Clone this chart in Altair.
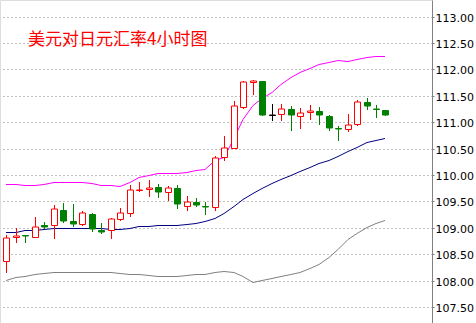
import altair as alt
import pandas as pd

title_text = "美元对日元汇率4小时图"

opens = [108.37, 108.83, 108.86, 108.83, 109.05, 109.05, 109.34, 109.13, 109.07, 109.27,
         108.96, 108.95, 109.16, 109.29, 109.71, 109.74, 109.77, 109.67, 109.75, 109.41,
         109.49, 109.41, 109.40, 110.34, 110.52, 111.29, 111.77, 111.78, 111.14, 111.15,
         111.25, 111.11, 111.20, 111.21, 111.12, 110.89, 110.87, 110.97, 111.38, 111.26,
         111.23]
highs = [108.86, 109.00, 108.86, 109.21, 109.11, 109.43, 109.47, 109.45, 109.32, 109.28,
         109.10, 109.18, 109.38, 109.81, 109.87, 109.91, 109.83, 109.80, 109.81, 109.60,
         109.56, 109.49, 110.36, 110.74, 111.40, 111.78, 111.80, 111.79, 111.35, 111.35,
         111.31, 111.27, 111.33, 111.28, 111.14, 110.92, 111.16, 111.43, 111.45, 111.33,
         111.23]
lows = [108.14, 108.71, 108.71, 108.81, 108.98, 108.79, 109.09, 109.01, 109.03, 108.93,
        108.88, 108.78, 109.12, 109.20, 109.68, 109.58, 109.57, 109.51, 109.36, 109.31,
        109.40, 109.25, 109.32, 110.27, 110.49, 111.25, 111.52, 111.12, 111.03, 111.03,
        110.84, 110.88, 111.04, 110.95, 110.84, 110.65, 110.81, 110.92, 111.24, 111.09,
        111.12]
closes = [108.80, 108.84, 108.85, 109.02, 109.02, 109.35, 109.12, 109.08, 109.28, 108.98,
          108.92, 109.16, 109.28, 109.71, 109.72, 109.75, 109.67, 109.75, 109.45, 109.49,
          109.43, 109.40, 110.32, 110.51, 111.31, 111.76, 111.78, 111.14, 111.14, 111.26,
          111.13, 111.18, 111.21, 111.14, 110.90, 110.88, 110.95, 111.38, 111.30, 111.25,
          111.13]

upper_band = [109.83, 109.83, 109.82, 109.82, 109.83, 109.86, 109.86, 109.86, 109.86, 109.84,
              109.82, 109.82, 109.79, 109.86, 109.97, 110.01, 110.04, 110.03, 110.03, 110.06,
              110.09, 110.11, 110.28, 110.35, 110.70, 111.06, 111.33, 111.46, 111.57, 111.72,
              111.86, 111.95, 112.03, 112.11, 112.15, 112.17, 112.16, 112.20, 112.23, 112.25,
              112.26]
middle_band = [108.92, 108.93, 108.95, 108.96, 108.97, 108.99, 108.99, 108.99, 108.99, 108.99,
               108.99, 108.98, 108.98, 109.00, 109.03, 109.04, 109.05, 109.05, 109.06, 109.08,
               109.10, 109.12, 109.19, 109.28, 109.41, 109.55, 109.66, 109.75, 109.84, 109.93,
               110.01, 110.08, 110.15, 110.23, 110.29, 110.37, 110.46, 110.54, 110.62, 110.66,
               110.70]
lower_band = [108.01, 108.06, 108.09, 108.12, 108.14, 108.16, 108.16, 108.16, 108.16, 108.16,
              108.16, 108.16, 108.15, 108.13, 108.12, 108.10, 108.09, 108.09, 108.09, 108.10,
              108.12, 108.12, 108.16, 108.19, 108.17, 108.08, 107.97, 108.01, 108.05, 108.09,
              108.13, 108.16, 108.24, 108.32, 108.44, 108.60, 108.78, 108.90, 109.01, 109.09,
              109.14]

y_ticks = [107.5, 108.0, 108.5, 109.0, 109.5, 110.0, 110.5, 111.0, 111.5, 112.0, 112.5, 113.0]

n = len(opens)
idx = list(range(n))
dirs = ["up" if c > o else ("down" if c < o else "flat") for o, c in zip(opens, closes)]
candles = pd.DataFrame({"i": idx, "o": opens, "h": highs, "l": lows, "c": closes, "d": dirs})

bands = pd.DataFrame({
    "i": idx * 3,
    "v": upper_band + middle_band + lower_band,
    "band": ["upper"] * n + ["middle"] * n + ["lower"] * n,
})

x_scale = alt.Scale(domain=[-0.155, 44.38], nice=False, zero=False, round=True)
y_scale = alt.Scale(domain=[107.197, 113.316], nice=False, zero=False, round=True)
stroke_scale = alt.Scale(domain=["up", "down", "flat"], range=["#ff0000", "#008000", "#000000"])
fill_scale = alt.Scale(domain=["up", "down", "flat"], range=["#ffffff", "#008000", "#000000"])
band_scale = alt.Scale(domain=["upper", "middle", "lower"], range=["#ff00ff", "#000080", "#808080"])

x_enc = alt.X("i:Q", scale=x_scale, axis=None)

base = alt.Chart(candles)

grid_axis = alt.Axis(
    orient="right", values=y_ticks, format=".2f", grid=True,
    gridColor="#808080", gridDash=[1, 3], gridWidth=1, gridOpacity=1,
    domainColor="#808080", domainWidth=1, tickColor="#808080", tickSize=2,
    labelFont="DejaVu Sans", labelFontSize=11, labelColor="#000000",
    labelPadding=1, labelBaseline="middle", labelOffset=1.5, labelAlign="left",
    title=None,
)

lines = alt.Chart(bands).mark_line(strokeWidth=1, interpolate="linear", yOffset=0.5).encode(
    x=x_enc,
    y=alt.Y("v:Q", scale=y_scale, axis=grid_axis),
    color=alt.Color("band:N", scale=band_scale, legend=None),
    detail="band:N",
)

wicks = base.mark_rule(strokeWidth=1, xOffset=0.5).encode(
    x=x_enc,
    y=alt.Y("l:Q", scale=y_scale, axis=grid_axis),
    y2="h:Q",
    color=alt.Color("d:N", scale=stroke_scale, legend=None),
)

bodies = base.mark_bar(size=6, strokeWidth=1, xOffset=0.5, yOffset=0.5).encode(
    x=x_enc,
    y=alt.Y("o:Q", scale=y_scale, axis=grid_axis),
    y2="c:Q",
    fill=alt.Fill("d:N", scale=fill_scale, legend=None),
    stroke=alt.Stroke("d:N", scale=stroke_scale, legend=None),
)

title_mark = alt.Chart(pd.DataFrame({"t": [title_text]})).mark_text(
    align="left", baseline="middle", font="Noto Sans CJK SC", fontSize=17, color="#ff0000"
).encode(text="t:N", x=alt.value(28), y=alt.value(40))

chart = alt.layer(lines, wicks, bodies, title_mark).resolve_scale(
    color="independent"
).properties(
    width=432, height=323,
    autosize=alt.AutoSizeParams(type="none"),
    padding={"left": 0, "top": 0, "right": 44, "bottom": 0},
).configure_view(stroke=None).configure(background="#ffffff")

chart.save("out.html", embed_options={"renderer": "svg", "actions": False})
